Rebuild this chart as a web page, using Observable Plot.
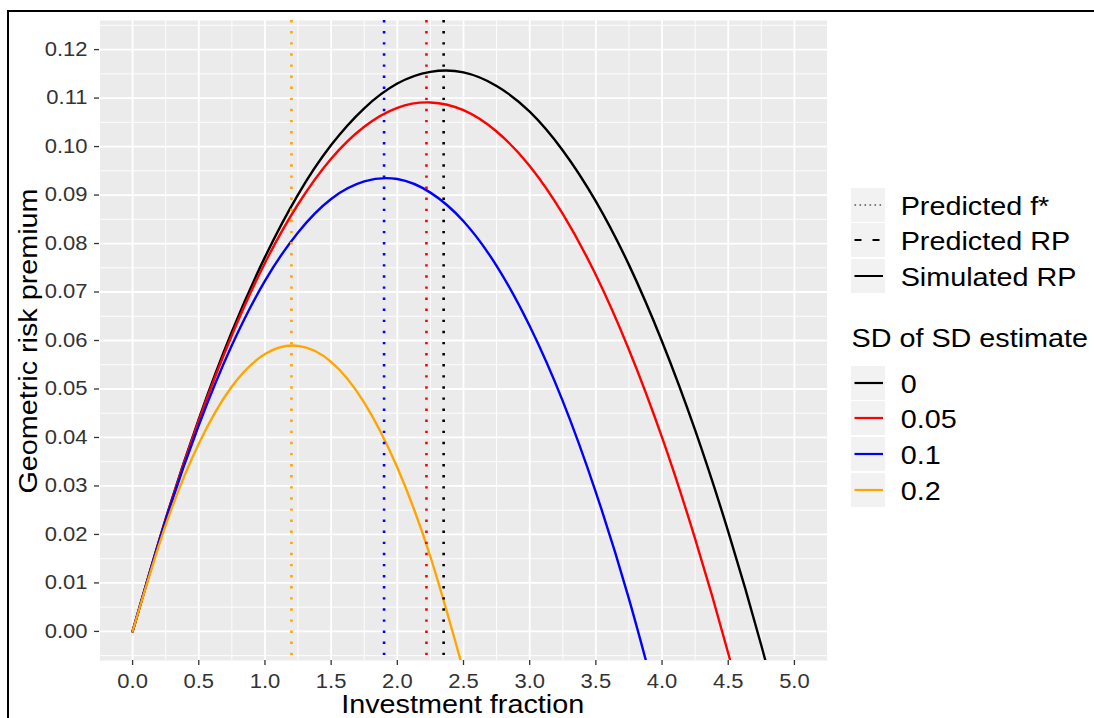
<!DOCTYPE html>
<html>
<head>
<meta charset="utf-8">
<script src="https://cdn.jsdelivr.net/npm/d3@7"></script>
<script src="https://cdn.jsdelivr.net/npm/@observablehq/plot@0.6"></script>
<style>
  html, body { margin: 0; padding: 0; background: #fff; }
  #wrap { position: relative; width: 1094px; height: 718px; overflow: hidden; background: #fff;
          font-family: "Liberation Sans", Arial, Helvetica, sans-serif; }
  #wrap > svg { position: absolute; left: 0; top: 0; }
  #border { position: absolute; left: 7px; top: 10px; width: 1200px; height: 800px;
            border-top: 2px solid #000; border-left: 2px solid #000; box-sizing: border-box; }
</style>
</head>
<body>
<div id="wrap"><div id="border"></div></div>
<script>
// ---------------- data ----------------
const sdLevels = ["0", "0.05", "0.1", "0.2"];
const sdColors = ["black", "red", "blue", "orange"];

const fraction = [0, 0.25, 0.5, 0.75, 1.0, 1.25, 1.5, 1.75, 2.0, 2.25, 2.5,
                  2.75, 3.0, 3.25, 3.5, 3.75, 4.0, 4.25, 4.5, 4.75, 5.0];

const rpSd0   = [0, 0.0232, 0.0438, 0.0618, 0.0772, 0.0901, 0.1003, 0.1079, 0.1130, 0.1154, 0.1153,
                 0.1125, 0.1072, 0.0992, 0.0887, 0.0756, 0.0598, 0.0415, 0.0206, -0.0029, -0.0290];
const rpSd005 = [0, 0.0231, 0.0435, 0.0611, 0.0760, 0.0881, 0.0975, 0.1041, 0.1080, 0.1091, 0.1075,
                 0.1031, 0.0960, 0.0861, 0.0735, 0.0581, 0.0400, 0.0191, -0.0045, -0.0309, null];
const rpSd01  = [0, 0.0229, 0.0425, 0.0590, 0.0723, 0.0823, 0.0892, 0.0928, 0.0933, 0.0905, 0.0846,
                 0.0754, 0.0630, 0.0475, 0.0287, 0.0067, -0.0185, null, null, null, null];
const rpSd02  = [0, 0.0219, 0.0387, 0.0505, 0.0572, 0.0589, 0.0556, 0.0472, 0.0338, 0.0154, -0.0081,
                 null, null, null, null, null, null, null, null, null, null];

const fStar = [2.35, 2.22, 1.90, 1.20];   // predicted optimal fraction per SD level

const xTicks = [0, 0.5, 1, 1.5, 2, 2.5, 3, 3.5, 4, 4.5, 5];
const xMinor = [-0.25, 0.25, 0.75, 1.25, 1.75, 2.25, 2.75, 3.25, 3.75, 4.25, 4.75, 5.25];
const yTicks = [0, 0.01, 0.02, 0.03, 0.04, 0.05, 0.06, 0.07, 0.08, 0.09, 0.10, 0.11, 0.12];
const yMinor = [-0.005, 0.005, 0.015, 0.025, 0.035, 0.045, 0.055, 0.065, 0.075, 0.085, 0.095, 0.105, 0.115, 0.125];

const xTitle = "Investment fraction";
const yTitle = "Geometric risk premium";
const linetypeLabels = ["Predicted f*", "Predicted RP", "Simulated RP"];
const colorTitle = "SD of SD estimate";

// ---------------- build tables ----------------
const seriesValues = [rpSd0, rpSd005, rpSd01, rpSd02];
const curveRows = [];
seriesValues.forEach((vals, i) => {
  vals.forEach((v, j) => {
    if (v !== null) curveRows.push({ f: fraction[j], rp: v, sd: sdLevels[i] });
  });
});
const starRows = fStar.map((f, i) => ({ f, sd: sdLevels[i] }));

const FONT = '"Liberation Sans", Arial, Helvetica, sans-serif';

const chart = Plot.plot({
  width: 1094,
  height: 718,
  marginLeft: 99,
  marginRight: 267,
  marginTop: 20,
  marginBottom: 58,
  style: { fontFamily: FONT, fontSize: "20px", color: "#333", background: "transparent", overflow: "visible" },
  x: { domain: [-0.25, 5.25] },
  y: { domain: [-0.006, 0.126] },
  color: { domain: sdLevels, range: sdColors },
  marks: [
    Plot.frame({ fill: "#EBEBEB", stroke: null }),
    Plot.ruleX(xMinor, { stroke: "white", strokeWidth: 0.9 }),
    Plot.ruleY(yMinor, { stroke: "white", strokeWidth: 0.9 }),
    Plot.ruleX(xTicks, { stroke: "white", strokeWidth: 1.8 }),
    Plot.ruleY(yTicks, { stroke: "white", strokeWidth: 1.8 }),
    Plot.line(curveRows, { x: "f", y: "rp", z: "sd", stroke: "sd", strokeWidth: 2.4, curve: "natural", clip: true }),
    Plot.ruleX(starRows, { x: "f", stroke: "sd", strokeWidth: 2.6, strokeDasharray: "2.4,8.7" }),
    Plot.axisX(xTicks, { tickSize: 5, tickPadding: 8, tickFormat: d => d.toFixed(1), label: null,
                         fontSize: 20, color: "#333", strokeWidth: 1.3 }),
    Plot.axisY(yTicks, { tickSize: 5, tickPadding: 7, tickFormat: d => d.toFixed(2), label: null,
                         fontSize: 20, color: "#333", strokeWidth: 1.3 })
  ]
});

const wrap = document.getElementById("wrap");
wrap.insertBefore(chart, document.getElementById("border"));

// overlay: axis titles + legends
const ov = d3.select(wrap).append("svg")
  .attr("width", 1094).attr("height", 718)
  .style("font-family", FONT);

ov.append("text").attr("x", 462.7).attr("y", 713).attr("text-anchor", "middle")
  .attr("font-size", 25).attr("fill", "#000").text(xTitle);
ov.append("text").attr("transform", "translate(36.5,341) rotate(-90)").attr("text-anchor", "middle")
  .attr("font-size", 25).attr("fill", "#000").text(yTitle);

// linetype legend
const ltCenters = [205, 240, 276];
const ltDash = ["1.6,3.4", "7,11", null];
ltCenters.forEach((cy, i) => {
  ov.append("rect").attr("x", 851).attr("y", cy - 17).attr("width", 34).attr("height", 34).attr("fill", "#F2F2F2");
  const ln = ov.append("line").attr("x1", 854.5).attr("x2", 883).attr("y1", cy).attr("y2", cy)
    .attr("stroke", i === 0 ? "#555" : "#000").attr("stroke-width", i === 0 ? 1.6 : 2);
  if (ltDash[i]) ln.attr("stroke-dasharray", ltDash[i]);
  ov.append("text").attr("x", 900.7).attr("y", cy + 10).attr("font-size", 25).attr("fill", "#000").text(linetypeLabels[i]);
});

// colour legend
ov.append("text").attr("x", 851.5).attr("y", 346.5).attr("font-size", 25).attr("fill", "#000").text(colorTitle);
const colCenters = [383, 418, 454, 490];
sdLevels.forEach((lab, i) => {
  const cy = colCenters[i];
  ov.append("rect").attr("x", 851).attr("y", cy - 17).attr("width", 34).attr("height", 34).attr("fill", "#F2F2F2");
  ov.append("line").attr("x1", 854.5).attr("x2", 883).attr("y1", cy).attr("y2", cy)
    .attr("stroke", sdColors[i]).attr("stroke-width", 2.2);
  ov.append("text").attr("x", 900.7).attr("y", cy + 10).attr("font-size", 25).attr("fill", "#000").text(lab);
});

// widen glyphs to match the wide sans face of the reference
function stretchTexts(svgEl, k) {
  svgEl.querySelectorAll("text").forEach(t => {
    const w = t.getComputedTextLength();
    if (w > 0) {
      t.setAttribute("textLength", (w * k).toFixed(2));
      t.setAttribute("lengthAdjust", "spacingAndGlyphs");
    }
  });
}
stretchTexts(chart, 1.1);
stretchTexts(ov.node(), 1.15);
</script>
</body>
</html>
